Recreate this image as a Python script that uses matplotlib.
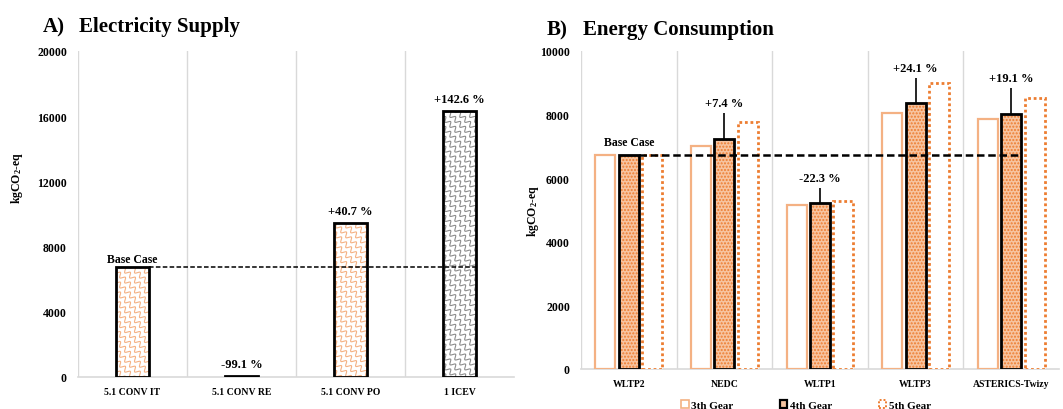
import numpy as np
import matplotlib.pyplot as plt
from matplotlib.patches import Patch
from matplotlib.lines import Line2D
from matplotlib.transforms import IdentityTransform

plt.rcParams['font.family'] = ['Liberation Serif', 'DejaVu Serif']
plt.rcParams['font.weight'] = 'bold'
plt.rcParams['mathtext.fontset'] = 'custom'
plt.rcParams['mathtext.rm'] = 'Liberation Serif:bold'
plt.rcParams['mathtext.it'] = 'Liberation Serif:bold'
plt.rcParams['mathtext.default'] = 'rm'

# --- A) electricity supply scenarios ---
supply_labels = ['5.1 CONV IT', '5.1 CONV RE', '5.1 CONV PO', '1 ICEV']
supply_values = [6730, 60, 9470, 16330]
supply_pct = [None, '-99.1 %', '+40.7 %', '+142.6 %']
supply_yticks = [0, 4000, 8000, 12000, 16000, 20000]

# --- B) driving cycle / gear scenarios ---
cycle_labels = ['WLTP2', 'NEDC', 'WLTP1', 'WLTP3', 'ASTERICS-Twizy']
gear3 = [6740, 7010, 5170, 8060, 7870]
gear4 = [6740, 7240, 5235, 8365, 8030]
gear5 = [6740, 7765, 5280, 9000, 8520]
gear4_err = [0, 810, 460, 790, 800]
cycle_pct = [None, '+7.4 %', '-22.3 %', '+24.1 %', '+19.1 %']
cycle_yticks = [0, 2000, 4000, 6000, 8000, 10000]

ORANGE = '#F4B183'
ORANGE_DARK = '#ED7D31'
GRID = '#D9D9D9'
YLABEL = 'kgCO$_2$-eq'


def style_axes(ax, n, yticks):
    ax.set_xlim(-0.5, n - 0.5)
    ax.set_ylim(yticks[0], yticks[-1])
    for s in ['left', 'right', 'top']:
        ax.spines[s].set_visible(False)
    ax.spines['bottom'].set_color(GRID)
    ax.spines['bottom'].set_linewidth(1.2)
    for i in range(n):
        ax.axvline(i - 0.5, color=GRID, lw=1.0, zorder=0)
    ax.set_yticks(yticks)
    ax.tick_params(axis='y', length=0, labelsize=8.5, pad=8)
    ax.tick_params(axis='x', length=0, labelsize=7, pad=7)


def add_wave_pattern(ax, bar, color):
    # wavy diagonal strokes, drawn in pixel space and clipped to the bar
    (x0, y0), (x1, y1) = ax.transData.transform([(bar.get_x(), bar.get_y()),
                                                  (bar.get_x() + bar.get_width(), bar.get_y() + bar.get_height())])
    span = (x1 - x0) + (y1 - y0)
    t = np.linspace(-span, span, int(span * 4) + 10)
    spacing, wave, amp = 7.0, 7.0, 2.2
    for off in np.arange(-span, span + spacing, spacing):
        wig = amp * np.sin(2 * np.pi * t / wave)
        xs = x0 + (t + off) / np.sqrt(2) - wig / np.sqrt(2) + (x1 - x0) / 2
        ys = y0 + (-t + off) / np.sqrt(2) - wig / np.sqrt(2) + (y1 - y0) / 2
        line = Line2D(xs, ys, transform=IdentityTransform(), color=color, lw=0.8, zorder=3)
        ax.add_artist(line)
        line.set_clip_path(bar)


fig = plt.figure(figsize=(10.63, 4.10), dpi=100)
axA = fig.add_axes([78 / 1063, 1 - 378 / 410, 436 / 1063, 326 / 410])
axB = fig.add_axes([581 / 1063, 1 - 370 / 410, 478 / 1063, 318 / 410])

# ---------------- A) Electricity Supply ----------------
style_axes(axA, len(supply_labels), supply_yticks)
xa = np.arange(len(supply_labels))
wa = 0.31
pattern_colors = [ORANGE, ORANGE, ORANGE, '#8C8C8C']
barsA = axA.bar(xa, supply_values, wa, facecolor='none', edgecolor='black', lw=2.0, zorder=4)
for bar, c in zip(barsA, pattern_colors):
    if bar.get_height() > 500:
        add_wave_pattern(axA, bar, c)
axA.set_xticks(xa)
axA.set_xticklabels(supply_labels)
for x, v, p in zip(xa, supply_values, supply_pct):
    if p:
        axA.annotate(p, (x, v), xytext=(0, 4), textcoords='offset points',
                     ha='center', va='bottom', fontsize=9)
axA.hlines(supply_values[0], xa[0] + wa / 2, xa[-1] + wa / 2, colors='black',
           linestyles=(0, (3, 1.5)), lw=1.1, zorder=5)
axA.annotate('Base Case', (xa[0], supply_values[0]), xytext=(0, 2), textcoords='offset points',
             ha='center', va='bottom', fontsize=8.5)

# ---------------- B) Energy Consumption ----------------
style_axes(axB, len(cycle_labels), cycle_yticks)
xb = np.arange(len(cycle_labels))
wb, step = 0.21, 0.245
axB.bar(xb - step, gear3, wb, facecolor='white', edgecolor=ORANGE, lw=1.6, zorder=3)
axB.bar(xb, gear4, wb, facecolor='#F7C4A0', edgecolor=ORANGE_DARK, lw=0, hatch='.....', zorder=3)
axB.bar(xb, gear4, wb, facecolor='none', edgecolor='black', lw=2.0, zorder=4)
axB.bar(xb + step, gear5, wb, facecolor='white', edgecolor=ORANGE_DARK, lw=2.0,
        linestyle=(0, (1, 1)), zorder=3)
for x, v, e in zip(xb, gear4, gear4_err):
    if e > 0:
        axB.vlines(x, v, v + e, colors='black', lw=1.2, zorder=5)
for x, v, e, p in zip(xb, gear4, gear4_err, cycle_pct):
    if p:
        axB.annotate(p, (x, v + e), xytext=(0, 3), textcoords='offset points',
                     ha='center', va='bottom', fontsize=9)
axB.set_xticks(xb)
axB.set_xticklabels(cycle_labels)
axB.hlines(gear4[0], xb[0] + wb / 2, xb[-1] + wb / 2, colors='black',
           linestyles=(0, (3, 1.5)), lw=1.8, zorder=6)
axB.annotate('Base Case', (xb[0], gear4[0]), xytext=(0, 5), textcoords='offset points',
             ha='center', va='bottom', fontsize=8.5)

handles = [Patch(facecolor='white', edgecolor=ORANGE, lw=1.2, label='3th Gear'),
           Patch(facecolor='#F7C4A0', edgecolor='black', lw=1.6, label='4th Gear'),
           Patch(facecolor='white', edgecolor=ORANGE_DARK, lw=1.4, linestyle=(0, (1, 1)), label='5th Gear')]
fig.legend(handles=handles, loc='lower center', bbox_to_anchor=(0.758, -0.026), ncol=3,
           frameon=False, fontsize=8, handlelength=0.7, handleheight=0.7, handletextpad=0.2,
           columnspacing=4.2)

# panel titles and axis labels
fig.text(43 / 1063, 1 - 32 / 410, 'A)', fontsize=15, va='baseline')
fig.text(79 / 1063, 1 - 32 / 410, 'Electricity Supply', fontsize=15, va='baseline')
fig.text(547 / 1063, 1 - 35 / 410, 'B)', fontsize=15, va='baseline')
fig.text(583 / 1063, 1 - 35 / 410, 'Energy Consumption', fontsize=15, va='baseline')
fig.text(17 / 1063, 1 - 178 / 410, YLABEL, rotation=90, ha='center', va='center', fontsize=8.5)
fig.text(533 / 1063, 1 - 211 / 410, YLABEL, rotation=90, ha='center', va='center', fontsize=8.5)

fig.savefig('out.png', dpi=100)
